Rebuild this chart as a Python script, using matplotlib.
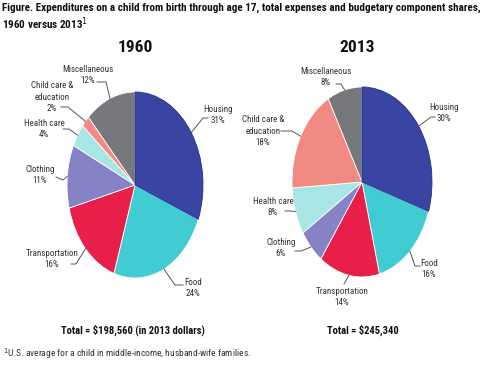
import matplotlib
matplotlib.use("Agg")
import numpy as np
import matplotlib.pyplot as plt
from matplotlib import font_manager as fm

# data
categories = ["Housing", "Food", "Transportation", "Clothing", "Health care",
              "Child care &\neducation", "Miscellaneous"]
shares_1960 = [31, 24, 16, 11, 4, 2, 12]
shares_2013 = [30, 16, 14, 6, 8, 18, 8]
years = ["1960", "2013"]
totals = ["Total = $198,560 (in 2013 dollars)", "Total = $245,340"]
colors = ["#3a45a3", "#40ccd2", "#e81f48", "#8583c6", "#a8e5e5", "#f18a82", "#76787b"]


# pick an Arial-Narrow-like face that is installed
def pick(prefs, bold):
    have = {}
    for f in fm.fontManager.ttflist:
        w = f.weight if isinstance(f.weight, int) else 400
        have.setdefault(f.name, set()).add(w)
    for p in prefs:
        if p in have and (not bold or max(have[p]) >= 600):
            return p
    return "DejaVu Sans"


narrow_prefs = ["Liberation Sans Narrow", "Arial Narrow", "Roboto Condensed",
                "Archivo Narrow", "Encode Sans Condensed"]
REG = pick(narrow_prefs, False)
BOLD = pick(narrow_prefs, True)
reg = dict(family=[REG, "DejaVu Sans"], stretch="condensed")
bold = dict(family=[BOLD, "DejaVu Sans"], stretch="condensed", weight="bold")

W, H = 482, 365
fig = plt.figure(figsize=(W / 100, H / 100), dpi=100)

# layout per pie (pixels from top-left): centre, radii, label text pos, leader end, knee
layouts = [
    dict(c=(135, 185), r=(68, 93), title=(135, 48), total=(133, 330),
         text=[(218, 115), (193, 288), (52, 259), (40, 175), (44, 129), (52, 97), (88, 75)],
         end=[(208, 118), (183, 285), (71, 264), (56, 177), (63, 129), (61, 107), (97, 82)],
         knee=[(203, 118), (175, 285), (76, 264), (63, 180), (69, 129), (68, 107), (106, 82)]),
    dict(c=(362, 182), r=(70, 95), title=(357, 48), total=(363, 330),
         text=[(444, 113), (429, 269), (342, 297), (281, 248), (273, 207), (263, 131), (326, 77)],
         end=[(435, 117), (420, 266), (344, 284), (295, 251), (285, 211), (281, 131), (336, 84)],
         knee=[(431, 117), (415, 266), (344, 284), (301, 251), (290, 211), (292, 131), (341, 84)]),
]

for shares, year, total, lay in zip([shares_1960, shares_2013], years, totals, layouts):
    cx, cy = lay["c"]
    rx, ry = lay["r"]
    ax = fig.add_axes([0, 0, 1, 1])
    wedges, _ = ax.pie(shares, colors=colors, startangle=90, counterclock=False,
                       wedgeprops=dict(edgecolor="white", linewidth=0.6))
    wedges[0].set_edgecolor("#23308c")
    wedges[0].set_zorder(3)
    ax.set_aspect("auto")
    ax.set_xlim((0 - cx) / rx, (W - cx) / rx)
    ax.set_ylim((cy - H) / ry, cy / ry)
    ax.axis("off")

    def px(p):
        return ((p[0] - cx) / rx, (cy - p[1]) / ry)

    # labels with leader lines
    start = 90.0
    for i, (cat, v) in enumerate(zip(categories, shares)):
        span = v / sum(shares) * 360
        mid = np.radians(start - span / 2)
        start -= span
        edge = (np.cos(mid), np.sin(mid))
        e = px(lay["end"][i])
        k = px(lay["knee"][i])
        ax.plot([e[0], k[0], edge[0]], [e[1], k[1], edge[1]], color="#555555",
                lw=0.7, clip_on=False)
        t = px(lay["text"][i])
        ax.text(t[0], t[1], f"{cat}\n{v}%", ha="center", va="center",
                multialignment="center", fontsize=6.5, color="#333333",
                linespacing=1.3, **reg)

    tt = px(lay["title"])
    ax.text(tt[0], tt[1], year, ha="center", va="center", fontsize=12.5,
            color="#111111", **bold)
    tp = px(lay["total"])
    ax.text(tp[0], tp[1], total, ha="center", va="center", fontsize=7.6,
            color="#111111", **bold)

fig.text(2 / W, 1 - 8 / H,
         "Figure. Expenditures on a child from birth through age 17, total expenses and budgetary component shares,",
         ha="left", va="center", fontsize=8, color="#111111", **bold)
fig.text(2 / W, 1 - 24 / H, "1960 versus 2013$^{1}$", ha="left", va="center",
         fontsize=8, color="#111111", **bold)
fig.text(3 / W, 1 - 354 / H, "$^{1}$U.S. average for a child in middle-income, husband-wife families.",
         ha="left", va="center", fontsize=6.8, color="#333333", **reg)

fig.savefig("out.png", dpi=100)
